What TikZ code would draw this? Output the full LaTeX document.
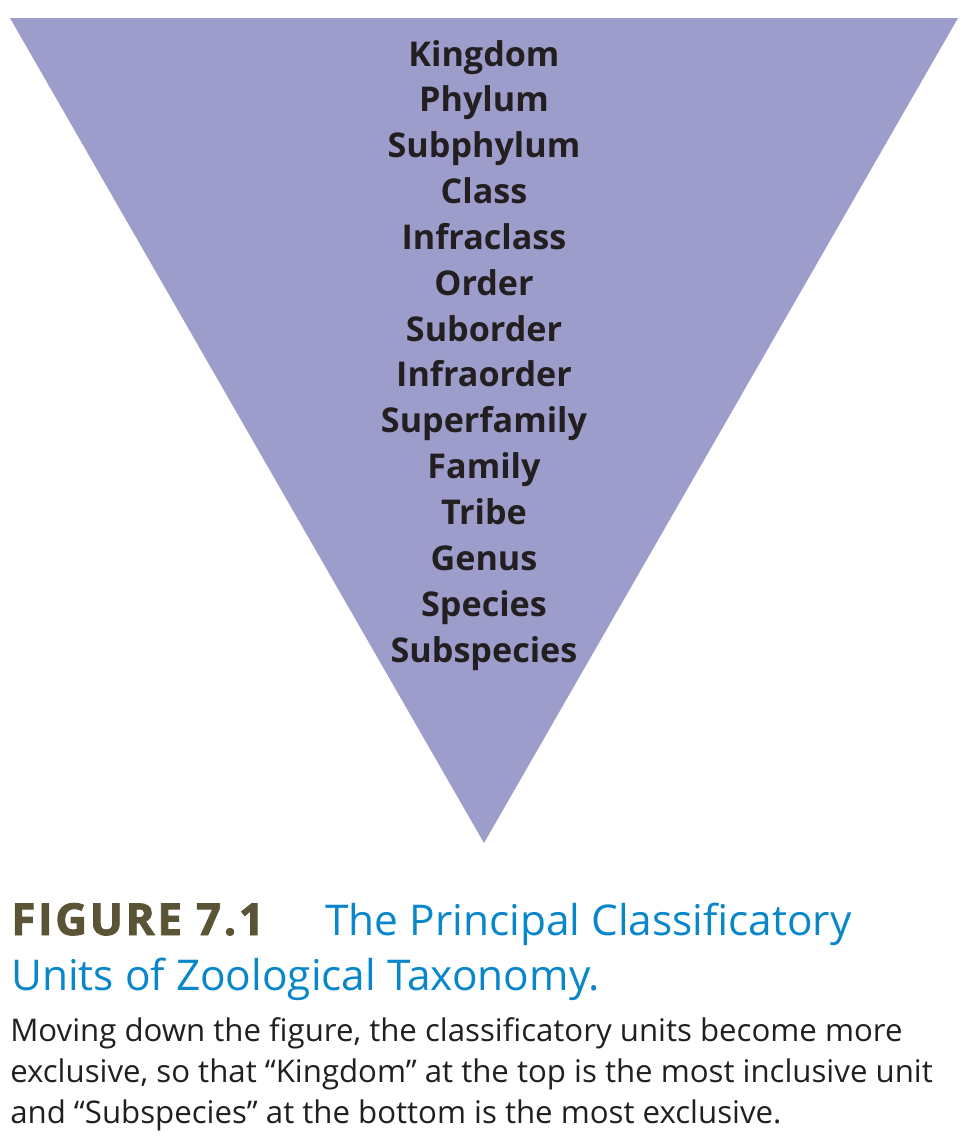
\documentclass[tikz,border=0pt]{standalone}
\usepackage{fontspec}
\setmainfont{Open Sans}
\newfontfamily\capfont[FakeBold=2]{Open Sans Bold}
\definecolor{tri}{HTML}{9D9DCC}
\definecolor{labtxt}{HTML}{231F20}
\definecolor{figcol}{HTML}{5A5335}
\definecolor{titleblue}{HTML}{0A86CB}
\begin{document}
\begin{tikzpicture}[x=0.75pt,y=-0.75pt,
  rank/.style={font=\fontsize{25.6}{30}\selectfont\bfseries, text=labtxt, anchor=base, inner sep=0pt},
  body/.style={font=\fontsize{23.4}{28}\selectfont, text=labtxt, anchor=base west, inner sep=0pt},
  ttl/.style={font=\fontsize{31.8}{38}\selectfont, text=titleblue, anchor=base west, inner sep=0pt}]
\useasboundingbox (0,0) rectangle (968,1140);
\coordinate (tl) at (10,18);
\coordinate (tr) at (958,18);
\coordinate (ap) at (484,843);
\fill[tri] (tl) -- (tr) -- (ap) -- cycle;
\foreach \t [count=\i from 0] in {Kingdom,Phylum,Subphylum,Class,Infraclass,Order,Suborder,Infraorder,Superfamily,Family,Tribe,Genus,Species,Subspecies}{
  \node[rank] (r\i) at (484,{66+\i*45.85}) {\t};
}
\node[anchor=base west, inner sep=0pt, text=figcol, font=\capfont\fontsize{33}{38}\selectfont\addfontfeatures{LetterSpace=6}] (fig) at (11,935) {FIGURE 7.1};
\node[ttl] (t1) at (325,935) {The Principal Classificatory};
\node[ttl] (t2) at (11,990) {Units of Zoological Taxonomy.};
\node[body] (b1) at (10,1041) {Moving down the figure, the classificatory units become more};
\node[body] (b2) at (10,1082) {exclusive, so that “Kingdom” at the top is the most inclusive unit};
\node[body] (b3) at (10,1123) {and “Subspecies” at the bottom is the most exclusive.};
\end{tikzpicture}
\end{document}
